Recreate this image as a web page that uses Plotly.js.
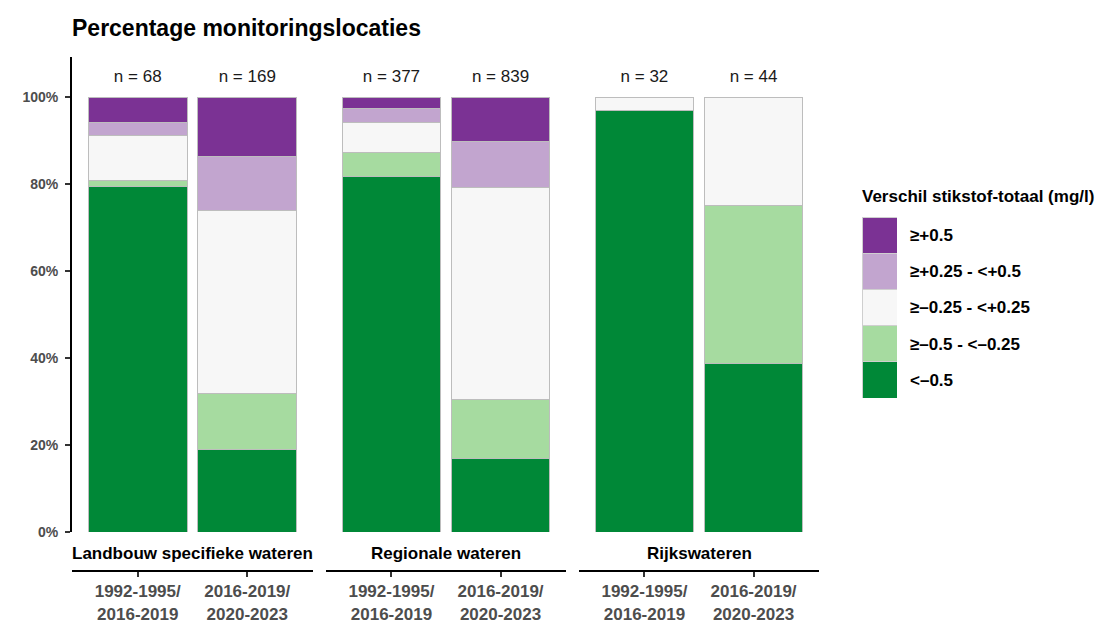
<!DOCTYPE html>
<html>
<head>
<meta charset="utf-8">
<script src="https://cdn.plot.ly/plotly-3.0.1.min.js"></script>
<style>html,body{margin:0;padding:0;background:#fff;}#chart{width:1119px;height:627px;}</style>
</head>
<body>
<div id="chart"></div>
<script>
// ---- data ----
const groups = ['Landbouw specifieke wateren', 'Regionale wateren', 'Rijkswateren'];
const periods = ['1992-1995/<br>2016-2019', '2016-2019/<br>2020-2023'];
const classes = ['<–0.5', '≥–0.5 - <–0.25', '≥–0.25 - <+0.25', '≥+0.25 - <+0.5', '≥+0.5'];
const classColors = ['#008837', '#A6DBA0', '#F7F7F7', '#C2A5CF', '#7B3294'];
// counts per group [period1, period2]
const countLow = [[54, 32], [308, 142], [31, 17]];      // <–0.5
const countMidLow = [[1, 22], [21, 114], [0, 16]];      // ≥–0.5 - <–0.25
const countMid = [[7, 71], [26, 408], [1, 11]];         // ≥–0.25 - <+0.25
const countMidHigh = [[2, 21], [12, 89], [0, 0]];       // ≥+0.25 - <+0.5
const countHigh = [[4, 23], [10, 86], [0, 0]];          // ≥+0.5
const nTotals = [[68, 169], [377, 839], [32, 44]];
const yTicks = [0, 20, 40, 60, 80, 100];
const yTickLabels = ['0%', '20%', '40%', '60%', '80%', '100%'];
const legendTitle = 'Verschil stikstof-totaal (mg/l)';
const chartTitle = 'Percentage monitoringslocaties';

const classCounts = [countLow, countMidLow, countMid, countMidHigh, countHigh];

// ---- geometry ----
const W = 1119, H = 627;
const mL = 72, mR = 10, mT = 57, mB = 56;
const pw = W - mL - mR, ph = H - mT - mB;
const px2x = p => (p - mL) / pw;
const px2y = p => (H - mB - p) / ph;
const panelPx = [[72, 313], [326, 566], [579, 819]];
const axNames = ['x', 'x2', 'x3'];
const font = 'Liberation Sans, Arial, sans-serif';

const traces = [];
classes.forEach((cls, ci) => {
  groups.forEach((g, gi) => {
    traces.push({
      type: 'bar',
      x: periods,
      y: classCounts[ci][gi].map((c, pi) => c / nTotals[gi][pi] * 100),
      xaxis: axNames[gi], yaxis: 'y',
      marker: {color: classColors[ci], line: {color: '#BDBDBD', width: 1}},
      showlegend: false, hoverinfo: 'skip', name: cls
    });
  });
});
// n labels
groups.forEach((g, gi) => {
  traces.push({
    type: 'scatter', mode: 'text',
    x: periods, y: periods.map(() => 104.5),
    text: nTotals[gi].map(n => 'n = ' + n),
    textfont: {family: font, size: 17, color: '#1a1a1a'},
    xaxis: axNames[gi], yaxis: 'y', showlegend: false, hoverinfo: 'skip', cliponaxis: false
  });
});
// legend drawn as a small subplot with large keys
classes.forEach((cls, ci) => {
  traces.push({
    type: 'bar', orientation: 'h',
    y: [cls], x: [1], width: [1],
    xaxis: 'x4', yaxis: 'y4',
    marker: {color: classColors[ci], line: {color: '#CFCFCF', width: 1}},
    showlegend: false, hoverinfo: 'skip'
  });
});

const layout = {
  width: W, height: H,
  margin: {l: mL, r: mR, t: mT, b: mB},
  paper_bgcolor: '#fff', plot_bgcolor: 'rgba(0,0,0,0)',
  barmode: 'stack', bargap: 0.1,
  showlegend: false,
  font: {family: font},
  title: {
    text: '<b>' + chartTitle + '</b>',
    font: {family: font, size: 23, color: '#000'},
    xref: 'paper', x: 0, xanchor: 'left',
    yref: 'container', y: 1 - 28 / H, yanchor: 'middle'
  },
  yaxis: {
    domain: [px2y(532), 1], range: [0, 109.2],
    anchor: 'x', tickmode: 'array', tickvals: yTicks, ticktext: yTickLabels,
    showgrid: false, zeroline: false,
    showline: true, linecolor: '#000', linewidth: 2,
    ticks: 'outside', ticklen: 5, tickwidth: 2, tickcolor: '#333',
    ticklabelstandoff: 4,
    tickfont: {family: font, size: 14, color: '#4D4D4D', weight: 'bold'}
  },
  xaxis4: {domain: [px2x(862), px2x(897)], range: [0, 1], anchor: 'y4', visible: false, fixedrange: true},
  yaxis4: {
    domain: [px2y(398), px2y(217)], anchor: 'x4', side: 'right',
    type: 'category', categoryorder: 'array', categoryarray: classes, range: [-0.5, 4.5],
    showgrid: false, zeroline: false, showline: false, ticks: '',
    ticklabelstandoff: 12,
    tickfont: {family: font, size: 17, color: '#000', weight: 'bold'}
  },
  annotations: [],
  shapes: []
};

groups.forEach((g, gi) => {
  const key = gi === 0 ? 'xaxis' : 'xaxis' + (gi + 1);
  layout[key] = {
    domain: [px2x(panelPx[gi][0]), px2x(panelPx[gi][1])],
    range: [-0.6, 1.6], type: 'category',
    anchor: 'free', position: 0,
    showgrid: false, zeroline: false,
    showline: true, linecolor: '#000', linewidth: 2,
    ticks: 'outside', ticklen: 5, tickwidth: 2, tickcolor: '#333',
    tickfont: {family: font, size: 17, color: '#4D4D4D', weight: 'bold'}
  };
  layout.annotations.push({
    text: '<b>' + g + '</b>', xref: 'paper', yref: 'paper',
    x: px2x((panelPx[gi][0] + panelPx[gi][1]) / 2), y: px2y(553),
    xanchor: 'center', yanchor: 'middle', showarrow: false,
    font: {family: font, size: 17, color: '#000'}
  });
});
layout.annotations.push({
  text: '<b>' + legendTitle + '</b>', xref: 'paper', yref: 'paper',
  x: px2x(860), y: px2y(196), xanchor: 'left', yanchor: 'middle', showarrow: false,
  font: {family: font, size: 17, color: '#000'}
});

Plotly.newPlot('chart', traces, layout, {displayModeBar: false, staticPlot: true});
</script>
</body>
</html>
